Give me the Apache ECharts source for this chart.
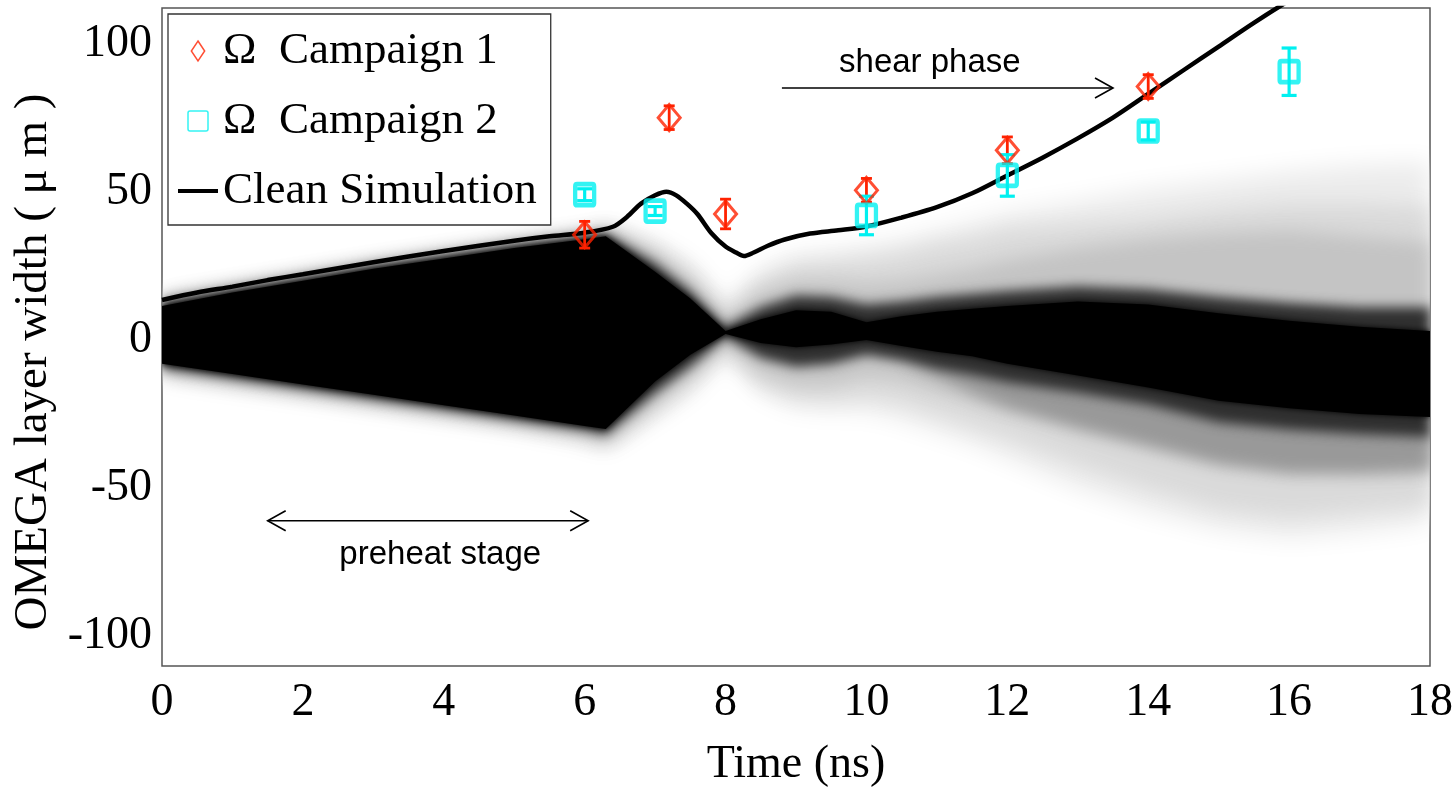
<!DOCTYPE html>
<html>
<head>
<meta charset="utf-8">
<script src="https://cdn.jsdelivr.net/npm/echarts@6/dist/echarts.min.js"></script>
<style>
html,body{margin:0;padding:0;background:#fff;}
#chart{width:1454px;height:792px;}
</style>
</head>
<body>
<div id="chart"></div>
<script>
// ---------- tick labels ----------
const xTicks = [0, 2, 4, 6, 8, 10, 12, 14, 16, 18];
const yTicks = [-100, -50, 0, 50, 100];

// ---------- clean simulation line ----------
const simTime  = [0, 0.5, 1, 1.5, 2, 3, 4, 5, 5.5, 6, 6.4, 6.6, 6.8, 7.0, 7.16, 7.3, 7.45, 7.6, 7.8, 8.0, 8.15, 8.26, 8.4, 8.6, 8.84, 9.2, 9.6, 10.0, 10.5, 11.0, 11.5, 12.0, 12.5, 13.0, 13.5, 14.0, 14.5, 15.0, 15.5, 16.0, 16.4];
const simWidth = [13.5, 16, 18, 20.2, 22.2, 26.2, 30, 33.5, 35, 36.2, 38.2, 41.5, 46, 48.8, 50, 48.8, 46, 42.5, 36, 31.5, 29.5, 28.3, 29.5, 31.8, 33.9, 35.9, 37, 38.3, 41.3, 44.8, 49.5, 55.5, 61.5, 68, 75, 83, 91, 99, 107, 114.5, 120];

// ---------- measurements ----------
const c1Time = [6, 7.2, 8, 10, 12, 14];
const c1Val  = [35.5, 75, 42.5, 50.5, 64, 85.5];
const c1Err  = [4.5, 4, 5, 4, 4.5, 4];

const c2Time = [6, 7, 10, 12, 14, 16];
const c2Val  = [49, 43.5, 42, 55.5, 70.5, 90.5];
const c2Err  = [2, 1.5, 6.5, 7, 3, 8];

// ---------- density envelope (time samples and band edges) ----------
const bandTime   = [0, 1, 2, 3, 4, 5, 6, 6.3, 7, 7.5, 8, 8.5, 9, 9.5, 10, 10.5, 11, 11.5, 12, 13, 14, 15, 16, 17, 18];
const faintUpper = [14, 18, 22, 26, 29.5, 33, 36, 38, 33, 26, 12, 24, 29, 30, 32, 34, 37, 40, 43, 47, 51, 54, 57, 59, 60];
const faintLower = [-12, -15.5, -19, -22.5, -26, -29.5, -34, -37, -26, -18, -5, -18, -23, -24, -24, -27, -31, -35, -40, -50, -58, -64, -67, -65, -62];
const lightUpper = [14, 18, 22, 26, 29.5, 33, 36, 38, 31, 23, 9, 20, 25, 26, 27, 29, 32, 34, 37, 39, 41, 44, 46, 46, 45];
const lightLower = [-11, -14.5, -18, -21.5, -25, -28.5, -33, -35.5, -24, -15, -3, -15, -19.5, -20, -19, -21, -25, -29, -33, -42, -50, -57, -60, -58, -56];
const midUpper   = [13.5, 17.5, 21.5, 25.5, 29, 32.5, 35.5, 37, 29, 20, 7, 16, 20, 20, 19, 20, 22, 24, 27, 31, 34, 36, 37, 35, 33];
const midLower   = [-10.5, -14, -17.5, -21, -24.5, -28, -32, -34, -21, -12, -1, -11, -15, -15, -12, -13.5, -17, -20, -22.5, -27, -33, -39, -43, -44, -44];
const lowUpper   = [-9.5, -13, -16.5, -20, -23.5, -27, -30.5, -32, -18, -9, 1, -6, -9, -8, -5, -7, -8, -10, -12.5, -16, -20, -26, -28.5, -30, -31];
const lowLower   = [-9.5, -13, -16.5, -20, -23.5, -27, -30.5, -32, -18, -9, 1, -6, -9, -8, -5, -7, -12, -18, -23, -30, -36, -42, -45, -45, -44];
const darkUpper  = [13, 17, 21, 25, 28.5, 32, 35, 36, 26, 16.5, 4.5, 11, 15, 14.5, 12, 13, 14.5, 15.5, 16.5, 18, 17, 14.5, 12.5, 11, 11];
const darkLower  = [-9.5, -13, -16.5, -20, -23.5, -27, -30.5, -32, -18, -9, 1, -6, -9, -8, -5, -7, -10, -12, -14.5, -18, -22, -28, -30.5, -32, -33];
const coreUpper  = [11.5, 16, 20, 24, 27.5, 31, 34, 35, 23, 14, 3, 7, 10, 9.5, 6, 8, 9.5, 10.5, 11.5, 13, 12, 9, 6.5, 4.5, 3];
const coreLower  = [-8, -11.5, -15, -18.5, -22, -25.5, -29, -30, -14, -5, 2, -1, -2.5, -1.5, 0, -2, -4, -5.5, -8, -12, -16, -20.5, -23, -25, -26];

// ---------- annotations ----------
const arrowStart = [8.8, 1.5];
const arrowEnd   = [13.5, 6.05];
const arrowY     = [85, -61];
const arrowBoth  = [false, true];
const annotText  = ['shear phase', 'preheat stage'];
const annotT     = [10.9, 3.95];
const annotY     = [93.5, -72.5];

// ---------- styling helpers ----------
const RED = '#ff2200';
const CYAN = '#00f0f0';
const SERIF = '"Liberation Serif", "Times New Roman", serif';
const SANS = '"Liberation Sans", Arial, sans-serif';
const diamondPath = 'path://M6,0L12,9L6,18L0,9Z';
const squarePath = 'path://M2,0H18Q20,0 20,2V18Q20,20 18,20H2Q0,20 0,18V2Q0,0 2,0Z';
const barPath = 'path://M0,0H40V4H0Z';

// soft levels are painted only through their blurred shadow (shape moved off-canvas)
const OFF = 5000;
const bandLevels = [
  {upper: faintUpper, lower: faintLower, color: '#ececec', blur: 24, soft: true},
  {upper: lightUpper, lower: lightLower, color: '#dadada', blur: 20, soft: true},
  {upper: midUpper,   lower: midLower,   color: '#c4c4c4', blur: 18, soft: true},
  {upper: lowUpper,   lower: lowLower,   color: '#999999', blur: 16, soft: true},
  {upper: darkUpper,  lower: darkLower,  color: '#303030', blur: 12, soft: true},
  {upper: coreUpper,  lower: coreLower,  color: '#000000', blur: 6,  soft: false}
];

function renderBand(params, api) {
  const lv = bandLevels[params.dataIndex];
  const dx = lv.soft ? OFF : 0;
  const pts = [];
  for (let i = 0; i < bandTime.length; i++) {
    const p = api.coord([bandTime[i], lv.upper[i]]);
    pts.push([p[0] + dx, p[1]]);
  }
  for (let i = bandTime.length - 1; i >= 0; i--) {
    const p = api.coord([bandTime[i], lv.lower[i]]);
    pts.push([p[0] + dx, p[1]]);
  }
  return {
    type: 'polygon',
    shape: {points: pts},
    style: {fill: lv.color, shadowBlur: lv.blur, shadowColor: lv.color, shadowOffsetX: -dx, shadowOffsetY: 0}
  };
}

function makeErrRender(times, vals, errs, color, capW, lw) {
  return function (params, api) {
    const i = params.dataIndex;
    const top = api.coord([times[i], vals[i] + errs[i]]);
    const bot = api.coord([times[i], vals[i] - errs[i]]);
    const st = {stroke: color, lineWidth: lw};
    return {
      type: 'group',
      children: [
        {type: 'line', shape: {x1: top[0], y1: top[1], x2: bot[0], y2: bot[1]}, style: st},
        {type: 'line', shape: {x1: top[0] - capW / 2, y1: top[1], x2: top[0] + capW / 2, y2: top[1]}, style: st},
        {type: 'line', shape: {x1: bot[0] - capW / 2, y1: bot[1], x2: bot[0] + capW / 2, y2: bot[1]}, style: st}
      ]
    };
  };
}

function renderAnnot(params, api) {
  const i = params.dataIndex;
  const a = api.coord([arrowStart[i], arrowY[i]]);
  const b = api.coord([arrowEnd[i], arrowY[i]]);
  const st = {stroke: '#000', lineWidth: 1.6};
  const hl = 18, hh = 10;
  const children = [
    {type: 'line', shape: {x1: a[0], y1: a[1], x2: b[0], y2: b[1]}, style: st},
    {type: 'polyline', shape: {points: [[b[0] - hl, b[1] - hh], [b[0], b[1]], [b[0] - hl, b[1] + hh]]}, style: Object.assign({fill: null}, st)}
  ];
  if (arrowBoth[i]) {
    children.push({type: 'polyline', shape: {points: [[a[0] + hl, a[1] - hh], [a[0], a[1]], [a[0] + hl, a[1] + hh]]}, style: Object.assign({fill: null}, st)});
  }
  const p = api.coord([annotT[i], annotY[i]]);
  children.push({
    type: 'text', x: p[0], y: p[1],
    style: {text: annotText[i], fontFamily: SANS, fontSize: 33, fill: '#000', align: 'center', verticalAlign: 'middle'}
  });
  return {type: 'group', children: children};
}

const chart = echarts.init(document.getElementById('chart'), null, {renderer: 'canvas'});
chart.setOption({
  animation: false,
  backgroundColor: '#fff',
  grid: {
    left: 162, top: 8, right: 24, bottom: 126,
    show: true, borderColor: '#555', borderWidth: 1.5, backgroundColor: '#fff',
    containLabel: false, outerBoundsMode: 'none'
  },
  xAxis: {
    type: 'value', min: 0, max: 18, interval: 2,
    name: 'Time (ns)', nameLocation: 'middle', nameGap: 76,
    nameTextStyle: {fontFamily: SERIF, fontSize: 46, color: '#000'},
    axisLine: {show: false}, axisTick: {show: false}, splitLine: {show: false},
    axisLabel: {customValues: xTicks, fontFamily: SERIF, fontSize: 46, color: '#000', margin: 14}
  },
  yAxis: {
    type: 'value', min: -110, max: 112,
    name: 'OMEGA layer width ( μ m )', nameLocation: 'middle', nameGap: 100,
    nameTextStyle: {fontFamily: SERIF, fontSize: 47, color: '#000', padding: [0, 50, 0, 0]},
    axisLine: {show: false}, axisTick: {show: false}, splitLine: {show: false},
    axisLabel: {customValues: yTicks, fontFamily: SERIF, fontSize: 46, color: '#000', margin: 10}
  },
  legend: {
    orient: 'vertical', left: 168, top: 14,
    padding: [12, 14, 9, 10], itemGap: 20, itemWidth: 40, itemHeight: 20,
    backgroundColor: '#fff', borderColor: '#333', borderWidth: 1.3, borderRadius: 0,
    selectedMode: false,
    textStyle: {fontFamily: SERIF, fontSize: 45, color: '#000', lineHeight: 50},
    data: [
      {name: 'Ω  Campaign 1', icon: diamondPath, itemStyle: {color: 'rgba(0,0,0,0)', borderColor: RED, borderWidth: 1.5}},
      {name: 'Ω  Campaign 2', icon: squarePath, itemStyle: {color: 'rgba(0,0,0,0)', borderColor: CYAN, borderWidth: 1.5}},
      {name: 'Clean Simulation', icon: barPath, itemStyle: {color: '#000', borderWidth: 0}}
    ]
  },
  series: [
    {
      type: 'custom', name: 'density', z: 1, clip: true, silent: true,
      renderItem: renderBand,
      data: bandLevels.map(() => [0, 0])
    },
    {
      type: 'line', name: 'Clean Simulation', z: 3, clip: true, silent: true,
      symbol: 'none', showSymbol: false, smooth: 0.3,
      lineStyle: {color: '#000', width: 4.5},
      itemStyle: {color: '#000'},
      data: simTime.map((t, i) => [t, simWidth[i]])
    },
    {
      type: 'custom', name: 'c1err', z: 4, silent: true,
      renderItem: makeErrRender(c1Time, c1Val, c1Err, RED, 11, 2.8),
      data: c1Time.map((t, i) => [t, c1Val[i]])
    },
    {
      type: 'custom', name: 'c2err', z: 4, silent: true,
      renderItem: makeErrRender(c2Time, c2Val, c2Err, CYAN, 15, 3.2),
      data: c2Time.map((t, i) => [t, c2Val[i]])
    },
    {
      type: 'scatter', name: 'Ω  Campaign 1', z: 5, silent: true,
      symbol: 'path://M0,-12L10,0L0,12L-10,0Z', symbolSize: [22, 26],
      itemStyle: {color: 'rgba(0,0,0,0)', borderColor: RED, borderWidth: 3},
      emphasis: {disabled: true},
      data: c1Time.map((t, i) => [t, c1Val[i]])
    },
    {
      type: 'scatter', name: 'Ω  Campaign 2', z: 5, silent: true,
      symbol: squarePath, symbolSize: [19, 21],
      itemStyle: {color: 'rgba(0,0,0,0)', borderColor: CYAN, borderWidth: 4.5},
      emphasis: {disabled: true},
      data: c2Time.map((t, i) => [t, c2Val[i]])
    },
    {
      type: 'custom', name: 'annotations', z: 6, silent: true,
      renderItem: renderAnnot,
      data: arrowStart.map((t, i) => [t, arrowY[i]])
    }
  ]
});
</script>
</body>
</html>
